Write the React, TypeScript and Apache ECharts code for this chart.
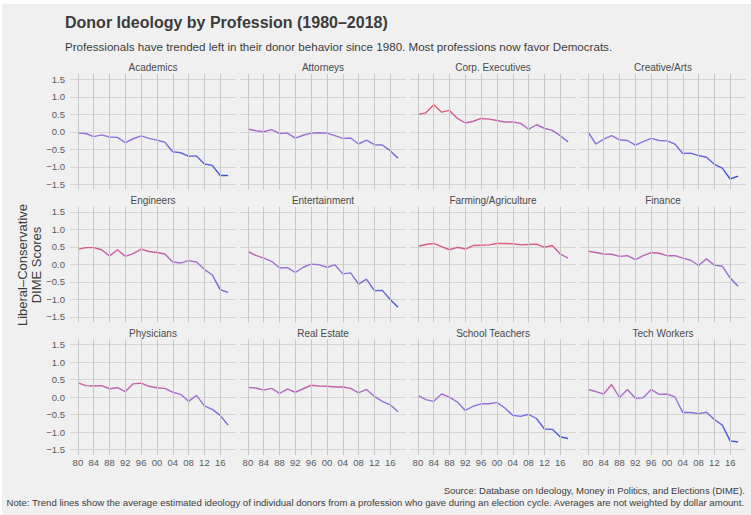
import React, { useEffect, useRef } from "react";
import * as echarts from "echarts";

const years = [1980, 1982, 1984, 1986, 1988, 1990, 1992, 1994, 1996, 1998, 2000, 2002, 2004, 2006, 2008, 2010, 2012, 2014, 2016, 2018];

const professions = [
  "Academics", "Attorneys", "Corp. Executives", "Creative/Arts",
  "Engineers", "Entertainment", "Farming/Agriculture", "Finance",
  "Physicians", "Real Estate", "School Teachers", "Tech Workers",
];

const academics = [-0.04, -0.05, -0.14, -0.09, -0.15, -0.16, -0.31, -0.2, -0.12, -0.19, -0.24, -0.3, -0.57, -0.6, -0.7, -0.69, -0.92, -0.96, -1.25, -1.25];
const attorneys = [0.08, 0.03, 0.0, 0.06, -0.05, -0.04, -0.18, -0.1, -0.04, -0.03, -0.04, -0.11, -0.19, -0.18, -0.35, -0.24, -0.37, -0.38, -0.54, -0.76];
const corpExecutives = [0.49, 0.54, 0.77, 0.56, 0.61, 0.38, 0.25, 0.3, 0.38, 0.36, 0.32, 0.28, 0.28, 0.24, 0.07, 0.2, 0.1, 0.04, -0.11, -0.29];
const creativeArts = [0.0, -0.35, -0.21, -0.11, -0.23, -0.25, -0.38, -0.28, -0.19, -0.25, -0.26, -0.35, -0.62, -0.61, -0.68, -0.73, -0.93, -1.04, -1.35, -1.27];
const engineers = [0.43, 0.48, 0.48, 0.42, 0.24, 0.42, 0.23, 0.31, 0.44, 0.37, 0.34, 0.3, 0.07, 0.04, 0.11, 0.07, -0.14, -0.3, -0.72, -0.8];
const entertainment = [0.37, 0.26, 0.18, 0.09, -0.1, -0.09, -0.23, -0.08, 0.01, -0.01, -0.08, -0.01, -0.27, -0.24, -0.56, -0.42, -0.75, -0.74, -1.0, -1.22];
const farming = [0.52, 0.57, 0.6, 0.51, 0.42, 0.49, 0.44, 0.54, 0.55, 0.56, 0.6, 0.6, 0.59, 0.56, 0.57, 0.58, 0.49, 0.54, 0.3, 0.18];
const finance = [0.38, 0.34, 0.3, 0.29, 0.23, 0.25, 0.14, 0.25, 0.34, 0.32, 0.25, 0.25, 0.18, 0.12, -0.03, 0.16, -0.02, -0.05, -0.39, -0.62];
const physicians = [0.41, 0.33, 0.32, 0.33, 0.24, 0.27, 0.16, 0.38, 0.4, 0.31, 0.27, 0.25, 0.14, 0.08, -0.12, 0.05, -0.25, -0.35, -0.52, -0.8];
const realEstate = [0.28, 0.26, 0.2, 0.25, 0.11, 0.23, 0.14, 0.24, 0.34, 0.32, 0.31, 0.29, 0.29, 0.25, 0.12, 0.22, 0.02, -0.12, -0.22, -0.42];
const schoolTeachers = [0.05, -0.07, -0.12, 0.09, 0.0, -0.14, -0.38, -0.26, -0.19, -0.19, -0.15, -0.31, -0.52, -0.55, -0.49, -0.61, -0.91, -0.92, -1.13, -1.18];
const techWorkers = [0.22, 0.16, 0.09, 0.36, -0.01, 0.22, -0.03, -0.02, 0.22, 0.08, 0.09, 0.01, -0.44, -0.44, -0.47, -0.43, -0.64, -0.8, -1.25, -1.28];

const seriesValues = [
  academics, attorneys, corpExecutives, creativeArts,
  engineers, entertainment, farming, finance,
  physicians, realEstate, schoolTeachers, techWorkers,
];

const yTickValues = [-1.5, -1.0, -0.5, 0.0, 0.5, 1.0, 1.5];
const xTickYears = [1980, 1984, 1988, 1992, 1996, 2000, 2004, 2008, 2012, 2016];

const titleText = "Donor Ideology by Profession (1980\u20132018)";
const subtitleText = "Professionals have trended left in their donor behavior since 1980. Most professions now favor Democrats.";
const yTitleText = "Liberal\u2013Conservative\nDIME Scores";
const sourceText = "Source: Database on Ideology, Money in Politics, and Elections (DIME).";
const noteText = "Note: Trend lines show the average estimated ideology of individual donors from a profession who gave during an election cycle. Averages are not weighted by dollar amount.";

const FONT = "'Liberation Sans', Arial, Helvetica, sans-serif";
const GRID = "#d5d5d5";
const VGRID = "#c8c8c8";
const TEXT = "#3c3c3c";
const AXIS_TEXT = "#5a5a5a";

// axis extents (ggplot-style 5% expansion)
const X_MIN = 1978;
const X_MAX = 2020;
const Y_MIN = -1.65;
const Y_MAX = 1.65;

export default function App() {
  const ref = useRef<HTMLDivElement>(null);

  useEffect(() => {
    if (!ref.current) return;
    const chart = echarts.init(ref.current, null, { renderer: "svg" });

    // category axis used only to place horizontal grid lines on the same scale
    const yGridCats: string[] = [];
    for (let k = 0; k <= 66; k++) yGridCats.push((Y_MIN + k * 0.05).toFixed(2));

    const grids: any[] = [];
    const xAxes: any[] = [];
    const yAxes: any[] = [];
    const series: any[] = [];
    const graphics: any[] = [];

    professions.forEach((name, i) => {
      const r = Math.floor(i / 4);
      const c = i % 4;
      const left = 70 + 170 * c;
      const top = 74 + 132.7 * r;
      grids.push({ left, top, width: 166, height: 115.5 });

      xAxes.push({
        gridIndex: i,
        type: "value",
        min: X_MIN,
        max: X_MAX,
        interval: 2,
        axisLine: { show: false },
        axisTick: { show: false },
        splitLine: { show: false },
        axisLabel: {
          show: r === 2,
          margin: 3,
          fontSize: 9.5,
          color: AXIS_TEXT,
          fontFamily: FONT,
          formatter: (v: number) => (xTickYears.indexOf(Math.round(v)) >= 0 && Math.abs(v - Math.round(v)) < 1e-6 ? String(Math.round(v) % 100).padStart(2, "0") : ""),
        },
      });
      yAxes.push({
        gridIndex: i,
        type: "value",
        min: Y_MIN,
        max: Y_MAX,
        interval: 0.05,
        axisLine: { show: false },
        axisTick: { show: false },
        splitLine: { show: false },
        axisLabel: {
          show: c === 0,
          margin: 5,
          fontSize: 9.5,
          color: AXIS_TEXT,
          fontFamily: FONT,
          formatter: (v: number) => {
            const hit = yTickValues.find((t) => Math.abs(t - v) < 1e-6);
            return hit === undefined ? "" : hit.toFixed(1).replace("-", "\u2212");
          },
        },
      });
      series.push({
        type: "line",
        name,
        xAxisIndex: i,
        yAxisIndex: i,
        symbol: "none",
        lineStyle: { width: 1.4 },
        data: years.map((y, k) => [y, seriesValues[i][k]]),
        markLine: {
          silent: true,
          symbol: ["none", "none"],
          label: { show: false },
          lineStyle: { color: VGRID, width: 1, type: "solid" },
          data: xTickYears.map((y) => ({ xAxis: y })),
        },
      });
      graphics.push({
        type: "text",
        x: left + 83,
        y: 67 + 133.2 * r,
        style: { text: name, fill: "#4a4a4a", fontSize: 10, fontFamily: FONT, textAlign: "center", textVerticalAlign: "middle" },
      });
    });

    // horizontal grid-line axes (indices 12..23)
    professions.forEach((_, i) => {
      yAxes.push({
        gridIndex: i,
        type: "category",
        data: yGridCats,
        boundaryGap: false,
        position: "left",
        axisLine: { show: false },
        axisTick: { show: false },
        axisLabel: { show: false },
        splitLine: {
          show: true,
          interval: (_idx: number, val: string) => yTickValues.some((t) => Math.abs(t - Number(val)) < 1e-6),
          lineStyle: { color: GRID, width: 1 },
        },
      });
    });

    graphics.push(
      {
        type: "text",
        x: 65,
        y: 22,
        style: { text: titleText, fill: TEXT, fontSize: 16, fontWeight: "bold", fontFamily: FONT, textAlign: "left", textVerticalAlign: "middle" },
      },
      {
        type: "text",
        x: 65,
        y: 46,
        style: { text: subtitleText, fill: TEXT, fontSize: 11.6, fontFamily: FONT, textAlign: "left", textVerticalAlign: "middle" },
      },
      {
        type: "text",
        x: 29,
        y: 265,
        rotation: Math.PI / 2,
        style: { text: yTitleText, fill: TEXT, fontSize: 13, lineHeight: 14, fontFamily: FONT, textAlign: "center", textVerticalAlign: "middle" },
      },
      {
        type: "text",
        x: 745,
        y: 490,
        style: { text: sourceText, fill: TEXT, fontSize: 9.5, fontFamily: FONT, textAlign: "right", textVerticalAlign: "middle" },
      },
      {
        type: "text",
        x: 744,
        y: 502,
        style: { text: noteText, fill: TEXT, fontSize: 9.6, fontFamily: FONT, textAlign: "right", textVerticalAlign: "middle" },
      }
    );

    chart.setOption({
      animation: false,
      backgroundColor: "transparent",
      grid: grids,
      xAxis: xAxes,
      yAxis: yAxes,
      series,
      graphic: graphics,
      visualMap: [
        {
          type: "continuous",
          show: false,
          dimension: 1,
          seriesIndex: series.map((_, k) => k),
          min: -1.3,
          max: 0.8,
          inRange: { color: ["#3c50d8", "#5560dc", "#6c6ade", "#8a74dc", "#a86ed0", "#d25a90", "#e8605e"] },
        },
      ],
    });

    return () => chart.dispose();
  }, []);

  return (
    <div
      style={{
        position: "fixed",
        left: 0,
        top: 0,
        width: 751,
        height: 515,
        background: "#f0f0f0",
        boxShadow: "inset 2px 4px 0 #ffffff",
      }}
    >
      <div ref={ref} style={{ position: "absolute", left: 0, top: 0, width: 751, height: 515 }} />
    </div>
  );
}
